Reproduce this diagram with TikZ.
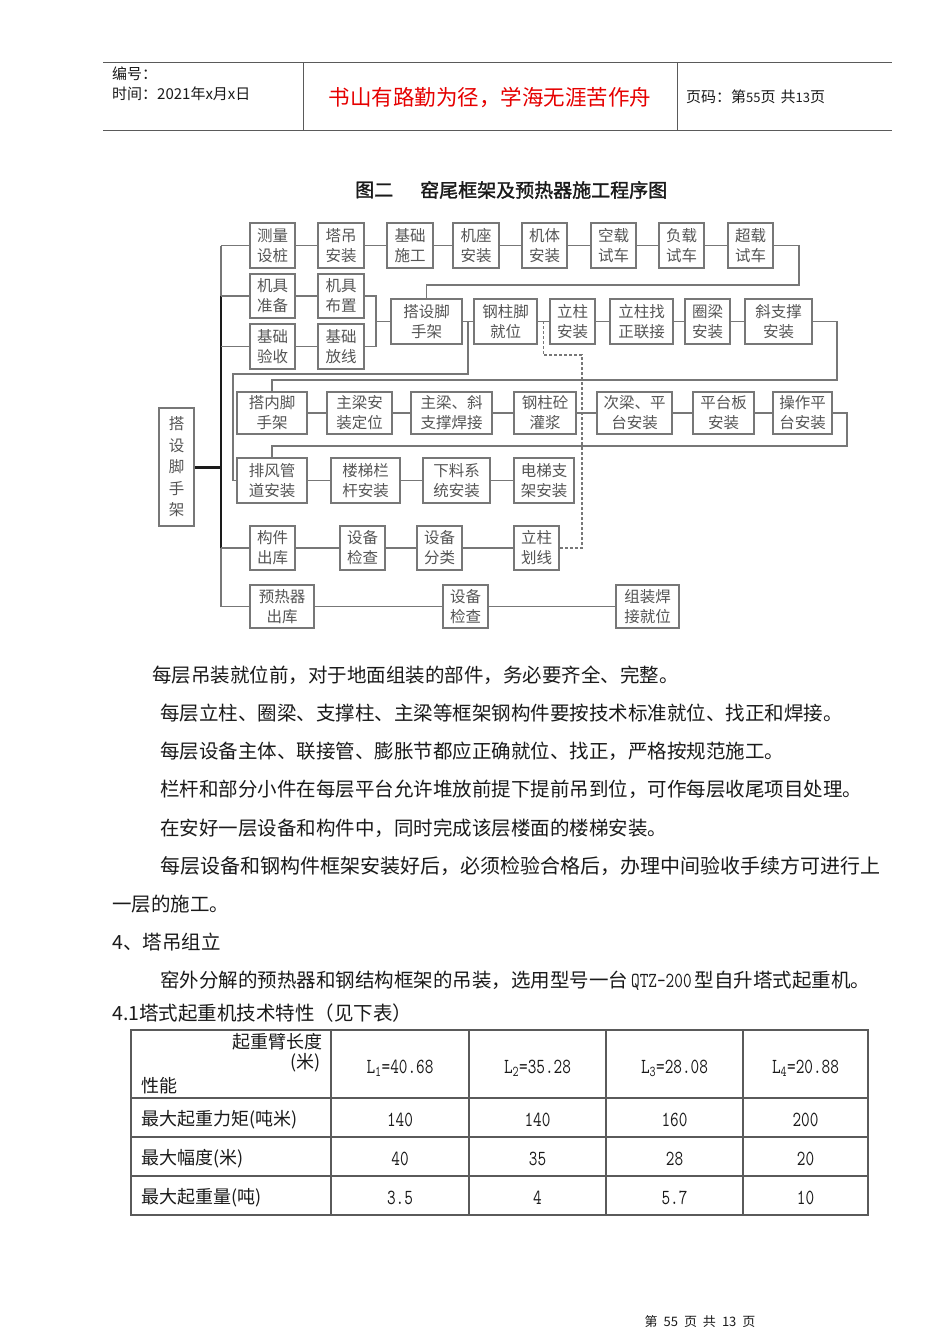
\documentclass[tikz,border=0pt]{standalone}
\usepackage{fontspec}
\setmainfont{Noto Sans CJK SC}
\newfontfamily\cjkb[FakeBold=1.5]{Noto Sans CJK SC}
\usetikzlibrary{calc}
\definecolor{boxgray}{HTML}{777777}
\definecolor{txtgray}{HTML}{555555}
\definecolor{ink}{HTML}{1A1A1A}
\definecolor{hdred}{HTML}{E60000}
\definecolor{rulegray}{HTML}{5A5A5A}
\newcommand\mybox[6]{\node[bx,minimum width={(#3-#2)*1pt},minimum height={(#5-#4)*1pt}] (#1) at ({(#2+#3)/2},{(#4+#5)/2}) {#6};}
\newcommand\nm[1]{\scalebox{0.78}[1]{#1}}
\tikzset{
  bx/.style={draw=boxgray,line width=2pt,inner sep=0pt,align=center,text=txtgray,
    font=\fontsize{15.5}{20}\selectfont},
  conn/.style={draw=boxgray,line width=1.6pt},
  trunk/.style={draw=ink,line width=2pt},
  dsh/.style={draw=boxgray,line width=1.4pt,dash pattern=on 3pt off 2pt},
  txt/.style={anchor=west,inner sep=0pt,text=ink,font=\fontsize{19.5}{24}\selectfont},
  hdr/.style={anchor=west,inner sep=0pt,text=ink,font=\fontsize{15}{18}\selectfont},
  tbl/.style={draw=rulegray,line width=1.3pt},
  cell/.style={inner sep=0pt,text=ink,font=\fontsize{18}{22}\selectfont},
  num/.style={inner sep=0pt,text=ink,font=\fontsize{21.5}{24}\ttfamily},
}
\begin{document}
\begin{tikzpicture}[x=1pt,y=-1pt]
\useasboundingbox[fill=white] (0,0) rectangle (950,1344);

% ---------- header ----------
\draw[rulegray,line width=1pt] (103,62) -- (892,62);
\draw[rulegray,line width=1pt] (103,130) -- (892,130);
\draw[rulegray,line width=1pt] (303,62) -- (303,130);
\draw[rulegray,line width=1pt] (677,62) -- (677,130);
\node[hdr] (h1) at (112,74) {编号：};
\node[hdr] (h2) at (112,94) {时间：2021年x月x日};
\node[inner sep=0pt,text=hdred,font=\fontsize{21.5}{24}\selectfont] (h3) at (490,98) {书山有路勤为径，学海无涯苦作舟};
\node[hdr] (h4) at (686,97) {页码：第{\fontsize{13}{15}\selectfont 55}页\hspace{5pt}共{\fontsize{13}{15}\selectfont 13}页};

% ---------- title ----------
\node[anchor=west,inner sep=0pt,text=ink,font=\fontsize{19}{22}\cjkb] (t1) at (355,190) {图二};
\node[anchor=west,inner sep=0pt,text=ink,font=\fontsize{19}{22}\cjkb] (t2) at (420,190) {窑尾框架及预热器施工程序图};

% ---------- boxes ----------
\mybox{a1}{250}{295}{223}{268}{测量\\设桩}
\mybox{a2}{318}{364}{223}{268}{塔吊\\安装}
\mybox{a3}{387}{433}{223}{268}{基础\\施工}
\mybox{a4}{453}{499}{223}{268}{机座\\安装}
\mybox{a5}{522}{567}{223}{268}{机体\\安装}
\mybox{a6}{591}{636}{223}{268}{空载\\试车}
\mybox{a7}{659}{704}{223}{268}{负载\\试车}
\mybox{a8}{728}{773}{223}{268}{超载\\试车}

\mybox{b1}{250}{295}{274}{318}{机具\\准备}
\mybox{b2}{318}{364}{274}{318}{机具\\布置}
\mybox{c1}{250}{295}{324}{369}{基础\\验收}
\mybox{c2}{318}{364}{324}{369}{基础\\放线}

\mybox{s1}{391}{462}{299}{344}{搭设脚\\手架}
\mybox{s2}{474}{537}{299}{344}{钢柱脚\\就位}
\mybox{s3}{550}{595}{299}{344}{立柱\\安装}
\mybox{s4}{610}{673}{299}{344}{立柱找\\正联接}
\mybox{s5}{685}{730}{299}{344}{圈梁\\安装}
\mybox{s6}{745}{812}{299}{344}{斜支撑\\安装}

\mybox{d1}{237}{307}{392}{434}{搭内脚\\手架}
\mybox{d2}{327}{392}{392}{434}{主梁安\\装定位}
\mybox{d3}{411}{492}{392}{434}{主梁、斜\\支撑焊接}
\mybox{d4}{514}{576}{392}{434}{钢柱砼\\灌浆}
\mybox{d5}{597}{672}{392}{434}{次梁、平\\台安装}
\mybox{d6}{693}{754}{392}{434}{平台板\\安装}
\mybox{d7}{773}{832}{392}{434}{操作平\\台安装}

\mybox{e1}{237}{307}{458}{503}{排风管\\道安装}
\mybox{e2}{331}{400}{458}{503}{楼梯栏\\杆安装}
\mybox{e3}{423}{490}{458}{503}{下料系\\统安装}
\mybox{e4}{514}{574}{458}{503}{电梯支\\架安装}

\mybox{f1}{250}{295}{526}{570}{构件\\出库}
\mybox{f2}{340}{385}{526}{570}{设备\\检查}
\mybox{f3}{417}{462}{526}{570}{设备\\分类}
\mybox{f4}{514}{559}{526}{570}{立柱\\划线}

\mybox{g1}{250}{314}{585}{628}{预热器\\出库}
\mybox{g2}{443}{488}{585}{628}{设备\\检查}
\mybox{g3}{616}{679}{585}{628}{组装焊\\接就位}

\node[bx,minimum width=35pt,minimum height=118pt,font=\fontsize{15.5}{21.5}\selectfont] (v) at (176.5,467) {搭\\设\\脚\\手\\架};

% ---------- connectors ----------
\coordinate (T) at (221,0);
\draw[conn] (a1.west -| T) -- (g1.west -| T);
\draw[trunk] (b1.west -| T) -- (f1.west -| T);
\draw[trunk,line width=3pt] (v.east) -- (v.east -| T);
\foreach \n in {a1,b1,c1,f1,g1} \draw[conn] (\n.west -| T) -- (\n.west);

\draw[conn] (a1) -- (a2) (a2) -- (a3) (a3) -- (a4) (a4) -- (a5) (a5) -- (a6) (a6) -- (a7) (a7) -- (a8);
\coordinate (R1) at (799,285);
\draw[conn] (a8.east) -| (R1) -| (s1.north);

\draw[conn] (b1) -- (b2) (c1) -- (c2);
\coordinate (J) at (376,321.5);
\draw[conn] (b2.east) -| (J) |- (c2.east);
\draw[conn] (J) -- (s1.west);

\draw[conn] (s1) -- (s2) (s2) -- (s3) (s3) -- (s4) (s4) -- (s5) (s5) -- (s6);
\coordinate (K) at ($(s1.east)!0.5!(s2.west)$);
\coordinate (K2) at (233,374);
\draw[conn] (K) |- (K2) |- (e1.west);

\coordinate (R2) at (837,380);
\draw[conn] (s6.east) -| (R2) -| (d1.north);
\draw[conn] (d1) -- (d2) (d2) -- (d3) (d3) -- (d4) (d4) -- (d5) (d5) -- (d6) (d6) -- (d7);
\coordinate (R3) at (847,446);
\draw[conn] (d7.east) -| (R3) -| (e1.north);
\draw[conn] (e1) -- (e2) (e2) -- (e3) (e3) -- (e4);
\draw[conn] (f1) -- (f2) (f2) -- (f3) (f3) -- (f4);
\draw[conn] (g1) -- (g2) (g2) -- (g3);

\coordinate (D1) at (582,355);
\coordinate (D2) at ($(s2.east)!0.5!(s3.west)$);
\draw[dsh] (f4.east) -| (D1) -| (D2);

% ---------- body text ----------
\node[txt] (p1) at (152,675) {每层吊装就位前，对于地面组装的部件，务必要齐全、完整。};
\node[txt] (p2) at (160,713) {每层立柱、圈梁、支撑柱、主梁等框架钢构件要按技术标准就位、找正和焊接。};
\node[txt] (p3) at (160,751) {每层设备主体、联接管、膨胀节都应正确就位、找正，严格按规范施工。};
\node[txt] (p4) at (160,789) {栏杆和部分小件在每层平台允许堆放前提下提前吊到位，可作每层收尾项目处理。};
\node[txt] (p5) at (160,828) {在安好一层设备和构件中，同时完成该层楼面的楼梯安装。};
\node[txt,font=\fontsize{20}{24}\selectfont] (p6) at (160,866) {每层设备和钢构件框架安装好后，必须检验合格后，办理中间验收手续方可进行上};
\node[txt] (p7) at (112,904) {一层的施工。};
\node[txt] (p8) at (112,942) {4、塔吊组立};
\node[txt] (p9) at (160,981) {窑外分解的预热器和钢结构框架的吊装，选用型号一台\hspace{3pt}{\fontsize{21.5}{24}\ttfamily\nm{QTZ-200}}\hspace{3pt}型自升塔式起重机。};
\node[txt] (p10) at (112,1013) {4.1塔式起重机技术特性（见下表）};

% ---------- table ----------
\draw[tbl] (131,1030) rectangle (868,1215);
\foreach \yy in {1098,1137,1176} \draw[tbl] (131,\yy) -- (868,\yy);
\foreach \xx in {331,469,606,743} \draw[tbl] (\xx,1030) -- (\xx,1215);

\node[cell,anchor=east] (th1) at (323,1042) {起重臂长度};
\node[cell,anchor=east] (th2) at (321,1063) {(米)};
\node[cell,anchor=west] (th3) at (141,1086) {性能};
\node[num] (c11) at (400,1068) {\nm{L\textsubscript{1}=40.68}};
\node[num] (c12) at (537.5,1068) {\nm{L\textsubscript{2}=35.28}};
\node[num] (c13) at (674.5,1068) {\nm{L\textsubscript{3}=28.08}};
\node[num] (c14) at (805.5,1068) {\nm{L\textsubscript{4}=20.88}};

\node[cell,anchor=west] (r1) at (141,1120) {最大起重力矩(吨米)};
\node[cell,anchor=west] (r2) at (141,1159) {最大幅度(米)};
\node[cell,anchor=west] (r3) at (141,1198) {最大起重量(吨)};

\node[num] (v11) at (400,1120) {\nm{140}};
\node[num] (v12) at (537.5,1120) {\nm{140}};
\node[num] (v13) at (674.5,1120) {\nm{160}};
\node[num] (v14) at (805.5,1120) {\nm{200}};
\node[num] (v21) at (400,1159) {\nm{40}};
\node[num] (v22) at (537.5,1159) {\nm{35}};
\node[num] (v23) at (674.5,1159) {\nm{28}};
\node[num] (v24) at (805.5,1159) {\nm{20}};
\node[num] (v31) at (400,1198) {\nm{3.5}};
\node[num] (v32) at (537.5,1198) {\nm{4}};
\node[num] (v33) at (674.5,1198) {\nm{5.7}};
\node[num] (v34) at (805.5,1198) {\nm{10}};

% ---------- footer ----------
\node[inner sep=0pt,text=ink,font=\fontsize{13}{15}\selectfont] (ft) at (700,1322) {第\hspace{6pt}55\hspace{6pt}页\hspace{6pt}共\hspace{6pt}13\hspace{6pt}页};
\end{tikzpicture}
\end{document}
